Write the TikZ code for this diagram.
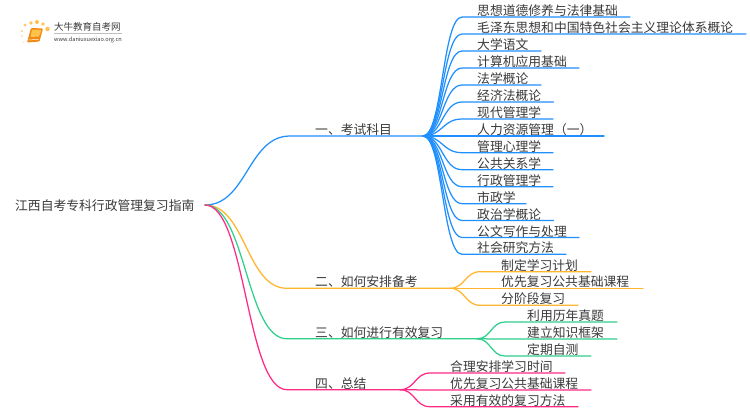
\documentclass[tikz,border=0pt]{standalone}
\usepackage{fontspec}
\setmainfont{Noto Sans CJK SC}
\definecolor{txt}{HTML}{3A3A3A}
\definecolor{cblue}{HTML}{2090FF}
\definecolor{corange}{HTML}{FFB52E}
\definecolor{cgreen}{HTML}{2ED08C}
\definecolor{cpink}{HTML}{FF2A85}
\definecolor{bookdark}{HTML}{F08A14}
\definecolor{booklight}{HTML}{FFC24A}
\tikzset{
  lbl/.style={anchor=base west,inner sep=0pt,text=txt,font=\fontsize{12.8}{14}\selectfont},
  conn/.style={line width=1.25pt,line cap=round},
}
% name, parent, color, y, text x, line end x, curve end x, text
\newcommand{\leafnode}[8]{%
  \coordinate (#1s) at (#7,#4);
  \coordinate (#1e) at (#6,#4);
  \node[lbl] (#1) at (#5,#4-1.5) {#8};
  \draw[conn,#3] (#2) .. controls +({(#7-\csname px#2\endcsname)*0.5},0) and +({-(#7-\csname px#2\endcsname)*0.5},0) .. (#1s) -- (#1e);
}
\begin{document}
\begin{tikzpicture}[x=1pt,y=-1pt]
\useasboundingbox (0,0) rectangle (750,410);
\fill[white] (0,0) rectangle (750,410);
% logo
\foreach \a/\b/\r/\o in {25/25/1.7/.7,31/23/1.9/.8,37/22/2/.85,43/24/1.8/.8,47.5/29/2.2/.85,22/31/1.4/.5,22/36/1.2/.4,23.5/42/.9/.3}{
  \fill[corange,opacity=\o] (\a,\b) circle (\r);
}
\fill[bookdark,rounded corners=1pt] (31,28) -- (43,28.5) -- (39.5,41.5) -- (27,42.5) -- cycle;
\fill[booklight,rounded corners=.8pt] (32,29.5) -- (41.5,30) -- (39,36.5) -- (30.5,37) -- cycle;
\draw[white,line width=.45pt] (28.5,40) -- (38.5,39.3);
\node[anchor=base west,inner sep=0pt,text=txt,font=\fontsize{9.5}{11}\selectfont] (brand) at (54,30.5) {大牛教育自考网};
\draw[black!25,line width=.4pt] (54,33.5) -- (122,33.5);
\node[anchor=base west,inner sep=0pt,text=txt,font=\fontsize{5.6}{7}\selectfont] (url) at (54,41) {www.daniuxuexiao.org.cn};
% root
\node[lbl] (root) at (15,210) {江西自考专科行政管理复习指南};
\coordinate (r) at (205,205);
% branch 1
\coordinate (bone) at (423,136); \def\pxbone{423}
\coordinate (b1s) at (290,136);
\node[lbl] (b1t) at (315,134.5) {一、考试科目};
\draw[conn,cblue] (r) .. controls +(42,0) and +(-42,0) .. (b1s) -- (bone);
\leafnode{aa}{bone}{cblue}{17}{477}{630}{462}{思想道德修养与法律基础}
\leafnode{ab}{bone}{cblue}{34}{477}{746}{462}{毛泽东思想和中国特色社会主义理论体系概论}
\leafnode{ac}{bone}{cblue}{51}{477}{541}{462}{大学语文}
\leafnode{ad}{bone}{cblue}{68}{477}{579}{462}{计算机应用基础}
\leafnode{ae}{bone}{cblue}{85}{477}{541}{462}{法学概论}
\leafnode{af}{bone}{cblue}{102}{477}{553.5}{462}{经济法概论}
\leafnode{ag}{bone}{cblue}{119}{477}{553}{462}{现代管理学}
\leafnode{ah}{bone}{cblue}{136}{477}{604}{462}{人力资源管理（一）}
\leafnode{ai}{bone}{cblue}{152.7}{477}{553}{462}{管理心理学}
\leafnode{aj}{bone}{cblue}{169.7}{477}{553}{462}{公共关系学}
\leafnode{ak}{bone}{cblue}{186.7}{477}{553}{462}{行政管理学}
\leafnode{al}{bone}{cblue}{203.7}{477}{526}{462}{市政学}
\leafnode{am}{bone}{cblue}{220.5}{477}{553.5}{462}{政治学概论}
\leafnode{an}{bone}{cblue}{237.5}{477}{579}{462}{公文写作与处理}
\leafnode{ao}{bone}{cblue}{254.3}{477}{566}{462}{社会研究方法}
% branch 2
\coordinate (btwo) at (450,288.3); \def\pxbtwo{450}
\coordinate (b2s) at (287,288.3);
\node[lbl] (b2t) at (315,286.8) {二、如何安排备考};
\draw[conn,corange] (r) .. controls +(41,0) and +(-41,0) .. (b2s) -- (btwo);
\leafnode{ba}{btwo}{corange}{271.7}{501}{591}{480}{制定学习计划}
\leafnode{bb}{btwo}{corange}{288.3}{501}{643}{480}{优先复习公共基础课程}
\leafnode{bc}{btwo}{corange}{305.3}{501}{578}{480}{分阶段复习}
% branch 3
\coordinate (bthree) at (477,338.8); \def\pxbthree{477}
\coordinate (b3s) at (287,338.8);
\node[lbl] (b3t) at (315,337.3) {三、如何进行有效复习};
\draw[conn,cgreen] (r) .. controls +(41,0) and +(-41,0) .. (b3s) -- (bthree);
\leafnode{ca}{bthree}{cgreen}{322}{527}{617}{505}{利用历年真题}
\leafnode{cb}{bthree}{cgreen}{339}{527}{617}{505}{建立知识框架}
\leafnode{cc}{bthree}{cgreen}{356}{527}{591}{505}{定期自测}
% branch 4
\coordinate (bfour) at (400,389.7); \def\pxbfour{400}
\coordinate (b4s) at (287,389.7);
\node[lbl] (b4t) at (315,388.2) {四、总结};
\draw[conn,cpink] (r) .. controls +(41,0) and +(-41,0) .. (b4s) -- (bfour);
\leafnode{da}{bfour}{cpink}{373}{450}{565}{430}{合理安排学习时间}
\leafnode{db}{bfour}{cpink}{390}{450}{591}{430}{优先复习公共基础课程}
\leafnode{dc}{bfour}{cpink}{406.7}{450}{578}{430}{采用有效的复习方法}
\end{tikzpicture}
\end{document}
